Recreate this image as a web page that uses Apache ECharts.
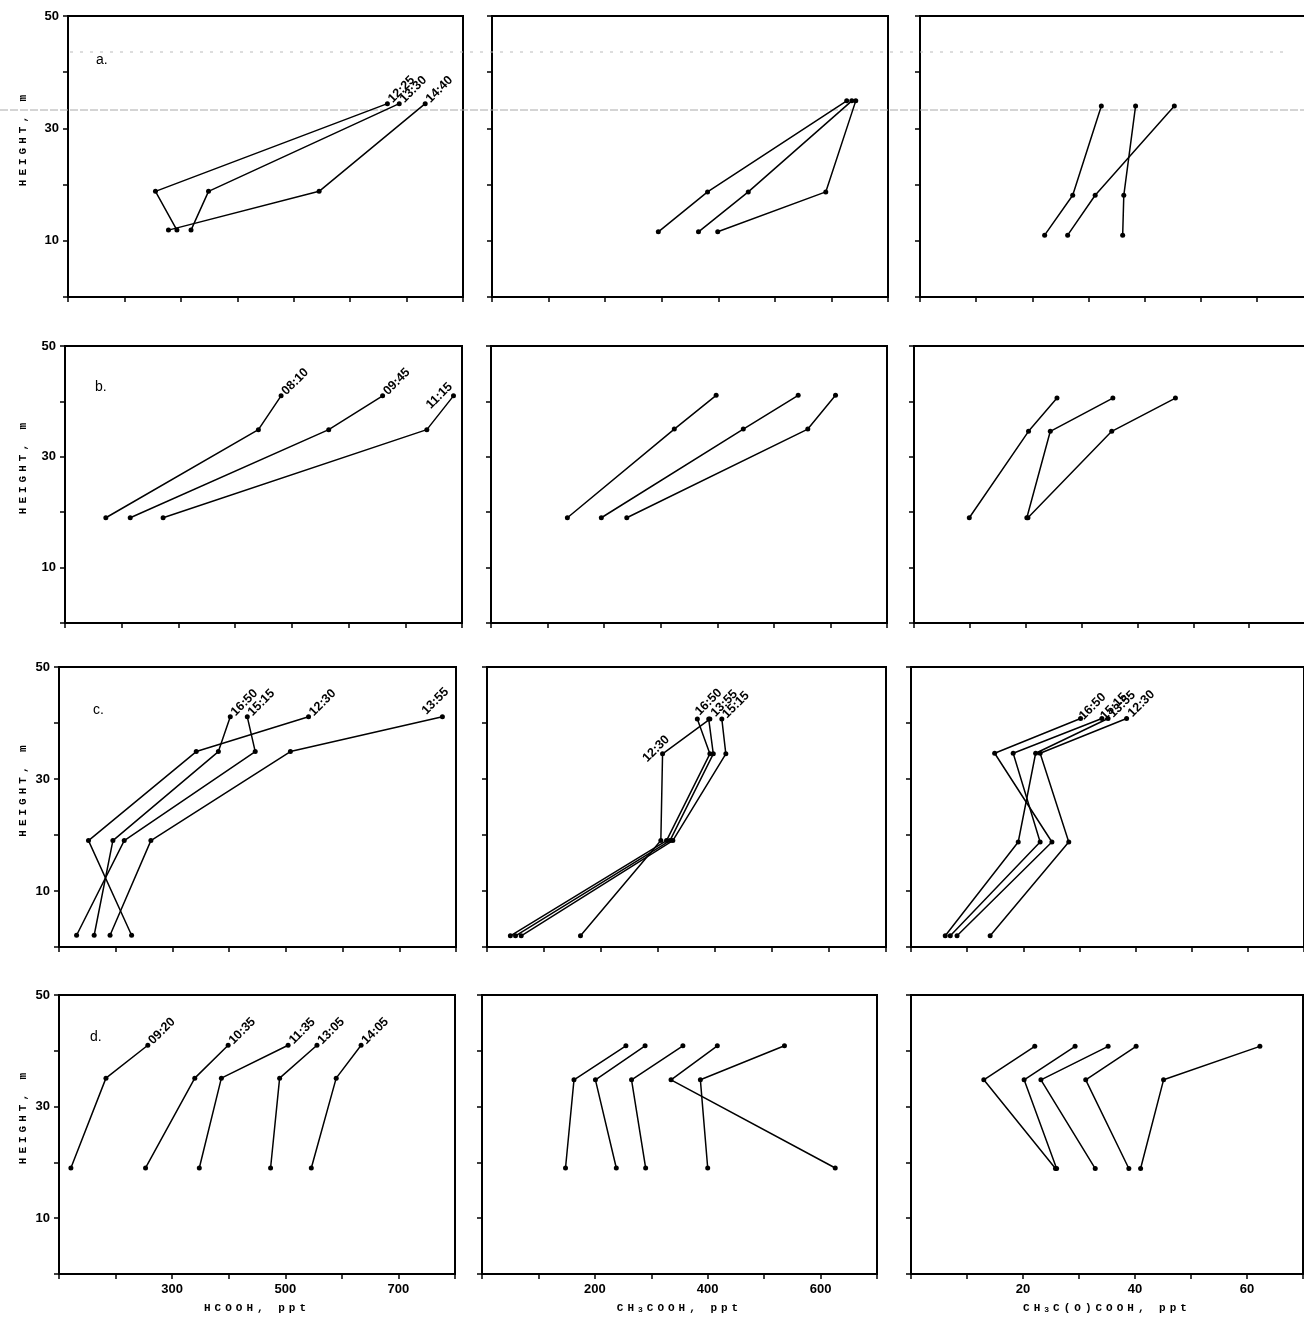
<!DOCTYPE html>
<html><head><meta charset="utf-8">
<script src="https://cdn.jsdelivr.net/npm/echarts@6/dist/echarts.min.js"></script>
<style>html,body{margin:0;padding:0;background:#fff}#c{width:1304px;height:1323px}</style>
</head><body><div id="c"></div><script>
// ---------- DATA ----------
// Row a
const TIMES_A = ['12:25', '13:30', '14:40'];
const HGT_A1 = [34.4, 18.8, 11.9];
const HCOOH_A = [[666, 255, 293], [687, 349, 318], [733, 545, 278]];
const HGT_A2 = [34.9, 18.7, 11.6];
const CH3COOH_A = [[627, 381, 294], [636, 453, 365], [643, 590, 399]];
const HGT_A3 = [34.0, 18.1, 11.0];
const PYR_A = [[32.3, 27.2, 22.2], [45.3, 31.2, 26.3], [38.4, 36.3, 36.1]];
// Row b
const TIMES_B = ['08:10', '09:45', '11:15'];
const HGT_B1 = [41.0, 34.9, 19.0];
const HCOOH_B = [[481, 441, 172], [660, 565, 215], [785, 738, 273]];
const HGT_B2 = [41.1, 35.0, 19.0];
const CH3COOH_B = [[398, 324, 135], [543, 446, 195], [609, 560, 240]];
const HGT_B3 = [40.6, 34.6, 19.0];
const PYR_B = [[25.6, 20.5, 9.9], [35.6, 24.4, 20.2], [46.8, 35.4, 20.4]];
// Row c
const TIMES_C = ['12:30', '16:50', '15:15', '13:55'];
const HGT_C1 = [41.1, 34.9, 19.0, 2.1];
const HCOOH_C = [[540, 342, 152, 228], [402, 381, 195, 162], [432, 446, 215, 131], [776, 508, 262, 190]];
const HGT_C2 = [40.7, 34.5, 19.0, 2.0];
const CH3COOH_C = [[391, 308, 305, 164], [369, 391, 315, 41], [412, 419, 326, 60], [389, 397, 321, 50]];
const HGT_C3 = [40.8, 34.6, 18.75, 2.0];
const PYR_C = [[38.4, 23.0, 28.1, 14.1], [30.2, 14.9, 25.1, 8.2], [34.0, 18.2, 23.0, 7.0], [35.1, 22.2, 19.1, 6.1]];
// Row d
const TIMES_D = ['09:20', '10:35', '11:35', '13:05', '14:05'];
const HGT_D1 = [41.0, 35.1, 19.0];
const HCOOH_D = [[257, 183, 121], [399, 340, 253], [505, 387, 348], [556, 490, 474], [634, 590, 546]];
const HGT_D2 = [40.9, 34.8, 19.0];
const CH3COOH_D = [[255, 163, 148], [289, 201, 238], [356, 265, 290], [417, 335, 626], [536, 387, 400]];
const HGT_D3 = [40.8, 34.8, 18.9];
const PYR_D = [[22.1, 13.0, 25.8], [29.3, 20.2, 26.0], [35.2, 23.2, 32.9], [40.2, 31.2, 38.9], [62.3, 45.1, 41.0]];
// Axes
const X_RANGES = [[100, 800], [0, 700], [0, 70]];
const X_INTERVALS = [100, 100, 10];
const X_TICK_LABELS = [[300, 500, 700], [200, 400, 600], [20, 40, 60]];
const Y_RANGE = [0, 50];
const Y_TICK_LABELS = [10, 30, 50];
// "_3" marks a subscript 3
const X_NAMES = ['HCOOH, ppt', 'CH_3COOH, ppt', 'CH_3C(O)COOH, ppt'];
const Y_NAME = 'HEIGHT, m';
const PANEL_LETTERS = ['a.', 'b.', 'c.', 'd.'];

// ---------- LAYOUT ----------
const ROWS = [
  {top: 16, bottom: 297, L: [68, 492, 920], R: [463, 888, 1313]},
  {top: 346, bottom: 623, L: [65, 491, 914], R: [462, 887, 1305]},
  {top: 667, bottom: 947, L: [59, 487, 911], R: [456, 886, 1304]},
  {top: 995, bottom: 1274, L: [59, 482, 911], R: [455, 877, 1303]}
];
const LETTER_POS = [[96, 53], [95, 380], [93, 703], [90, 1030]];

// spaced-out monospace axis names via rich text
function spaced(str) {
  const out = [];
  for (let i = 0; i < str.length; i++) {
    if (str[i] === '_') { out.push('{s|' + str[i + 1] + '}'); i++; }
    else out.push('{c|' + str[i] + '}');
  }
  return out.join('');
}
const MONO = 'Liberation Mono, DejaVu Sans Mono, Courier New, monospace';
const NAME_RICH = {
  c: {fontFamily: MONO, fontWeight: 'bold', fontSize: 11, color: '#000', padding: [0, 4, 0, 0], verticalAlign: 'bottom'},
  s: {fontFamily: MONO, fontWeight: 'bold', fontSize: 8, color: '#000', padding: [0, 4, 0, 0], verticalAlign: 'bottom'}
};

const Lb = (i = 0, off = [20, 0]) => ({i, off});
const panels = [
  {r: 0, c: 0, names: TIMES_A, h: HGT_A1, v: HCOOH_A, lab: [Lb(), Lb(), Lb()]},
  {r: 0, c: 1, names: TIMES_A, h: HGT_A2, v: CH3COOH_A},
  {r: 0, c: 2, names: TIMES_A, h: HGT_A3, v: PYR_A},
  {r: 1, c: 0, names: TIMES_B, h: HGT_B1, v: HCOOH_B, lab: [Lb(), Lb(), Lb(0, [-10, -10])]},
  {r: 1, c: 1, names: TIMES_B, h: HGT_B2, v: CH3COOH_B},
  {r: 1, c: 2, names: TIMES_B, h: HGT_B3, v: PYR_B},
  {r: 2, c: 0, names: TIMES_C, h: HGT_C1, v: HCOOH_C, lab: [Lb(), Lb(), Lb(), Lb(0, [6, -16])]},
  {r: 2, c: 1, names: TIMES_C, h: HGT_C2, v: CH3COOH_C, lab: [Lb(1, [-1, -8]), Lb(0, [20, -4]), Lb(0, [20, 0]), Lb(0, [22, 0])]},
  {r: 2, c: 2, names: TIMES_C, h: HGT_C3, v: PYR_C, lab: [Lb(0, [21, 0]), Lb(0, [17, 0]), Lb(0, [17, 0]), Lb(0, [20, 0])]},
  {r: 3, c: 0, names: TIMES_D, h: HGT_D1, v: HCOOH_D, lab: [Lb(), Lb(), Lb(), Lb(), Lb()]},
  {r: 3, c: 1, names: TIMES_D, h: HGT_D2, v: CH3COOH_D},
  {r: 3, c: 2, names: TIMES_D, h: HGT_D3, v: PYR_D}
];

const TICK_FONT = {color: '#000', fontWeight: 'bold', fontSize: 13, fontFamily: 'Liberation Sans, Arial, sans-serif'};

const grid = [], xAxis = [], yAxis = [], series = [];
panels.forEach((p, k) => {
  const row = ROWS[p.r];
  grid.push({
    left: row.L[p.c], top: row.top, width: row.R[p.c] - row.L[p.c], height: row.bottom - row.top,
    show: true, borderColor: '#000', borderWidth: 2, backgroundColor: 'transparent',
    containLabel: false, outerBoundsMode: 'none'
  });
  const showX = p.r === 3, showY = p.c === 0;
  xAxis.push({
    type: 'value', gridIndex: k, min: X_RANGES[p.c][0], max: X_RANGES[p.c][1], interval: X_INTERVALS[p.c],
    axisLine: {show: false}, splitLine: {show: false},
    axisTick: {show: true, inside: false, length: 5, lineStyle: {color: '#000', width: 1.5}},
    axisLabel: {show: showX, margin: 9, ...TICK_FONT,
      formatter: v => X_TICK_LABELS[p.c].includes(v) ? String(v) : ''},
    name: showX ? spaced(X_NAMES[p.c]) : '', nameLocation: 'middle', nameGap: 29,
    nameTextStyle: {rich: NAME_RICH}
  });
  yAxis.push({
    type: 'value', gridIndex: k, min: Y_RANGE[0], max: Y_RANGE[1], interval: 10,
    axisLine: {show: false}, splitLine: {show: false},
    axisTick: {show: true, inside: false, length: 5, lineStyle: {color: '#000', width: 1.5}},
    axisLabel: {show: showY, margin: 9, ...TICK_FONT,
      formatter: v => Y_TICK_LABELS.includes(v) ? String(v) : ''},
    name: showY ? spaced(Y_NAME) : '', nameLocation: 'middle', nameGap: row.L[0] - 29,
    nameTextStyle: {rich: NAME_RICH, padding: [0, 0, 0, 36]}
  });
  p.v.forEach((vals, s) => {
    const lab = p.lab ? p.lab[s] : null;
    const data = vals.map((x, i) => {
      const item = {value: [x, p.h[i]]};
      if (lab && lab.i === i) {
        item.label = {
          show: true, formatter: p.names[s], position: 'inside', rotate: 45, offset: lab.off,
          align: 'center', verticalAlign: 'middle', color: '#000', textBorderWidth: 0,
          fontWeight: 'bold', fontSize: 12.5, fontFamily: 'Liberation Sans, Arial, sans-serif'
        };
      }
      return item;
    });
    series.push({
      type: 'line', name: p.names[s], xAxisIndex: k, yAxisIndex: k, data,
      symbol: 'circle', symbolSize: 5, showSymbol: true,
      lineStyle: {color: '#000', width: 1.5}, itemStyle: {color: '#000'},
      label: {show: false}, emphasis: {disabled: true}, silent: true, z: 3
    });
  });
});

const title = PANEL_LETTERS.map((t, i) => ({
  text: t, left: LETTER_POS[i][0], top: LETTER_POS[i][1], padding: 0,
  textStyle: {color: '#000', fontWeight: 'normal', fontSize: 14, fontFamily: 'Liberation Sans, Arial, sans-serif'}
}));

const chart = echarts.init(document.getElementById('c'), null, {renderer: 'canvas'});
chart.setOption({
  backgroundColor: '#fff', animation: false, title, grid, xAxis, yAxis, series,
  graphic: [
    {type: 'line', silent: true, z: 0, shape: {x1: 0, y1: 110, x2: 1304, y2: 110}, style: {stroke: '#aaa', lineWidth: 1, lineDash: [8, 2]}},
    {type: 'line', silent: true, z: 0, shape: {x1: 70, y1: 52, x2: 1290, y2: 52}, style: {stroke: '#bbb', lineWidth: 1, lineDash: [3, 7]}}
  ]
});
</script></body></html>
